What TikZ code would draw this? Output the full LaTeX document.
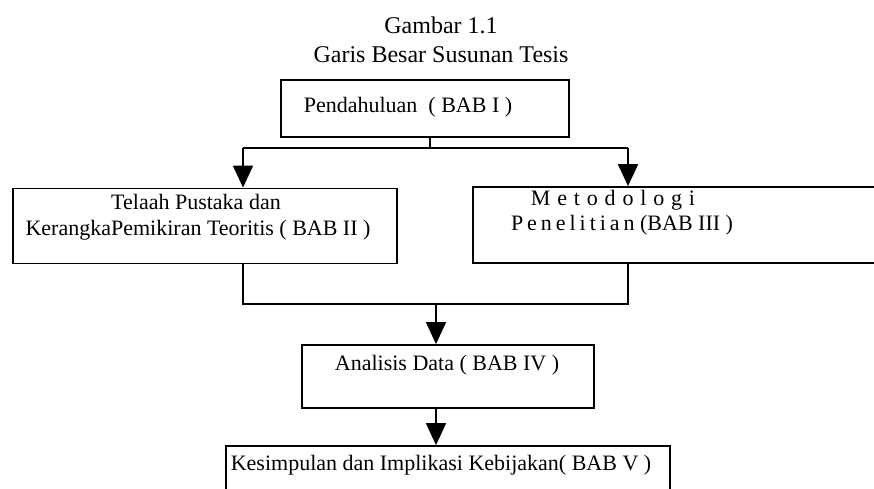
\documentclass[tikz,border=0pt]{standalone}
\usepackage{fontspec}
\setmainfont{Liberation Serif}
\usetikzlibrary{arrows.meta}

\tikzset{
  box/.style={draw, line width=1.8pt, inner sep=0pt},
  lbl/.style={inner sep=0pt, align=center, font=\fontsize{22}{28}\selectfont},
  ttl/.style={inner sep=0pt, font=\fontsize{24}{28}\selectfont},
  link/.style={line width=1.8pt},
  arr/.style={line width=1.8pt, -{Triangle[length=22pt,width=20pt]}},
}

\begin{document}
\begin{tikzpicture}[x=1pt,y=-1pt]
  \useasboundingbox (0,0) rectangle (874,488);
  \clip (0,0) rectangle (874,488);
  \fill[white] (0,0) rectangle (874,488);

  % heading
  \node[ttl] (t1) at (441,25) {Gambar 1.1};
  \node[ttl] (t2) at (441,55) {Garis Besar Susunan Tesis};

  % chapter boxes
  \node[box, minimum width=288pt, minimum height=57pt] (pend) at (425,108.5) {};
  \node[lbl] (pendt) at (408,107) {Pendahuluan\ \ ( BAB I )};

  \node[box, minimum width=384pt, minimum height=75pt] (tel) at (205,226) {};
  \node[lbl] (telt1) at (196,202) {Telaah Pustaka dan};
  \node[lbl] (telt2) at (198,230) {KerangkaPemikiran Teoritis ( BAB II )};

  \node[box, minimum width=440pt, minimum height=76pt] (met) at (693,225) {};
  \node[lbl] (mett1) at (613,200) {\addfontfeatures{LetterSpace=31}Metodologi};
  \node[lbl] (mett2) at (622,225) {{\addfontfeatures{LetterSpace=18}Penelitian} (BAB III )};

  \node[box, minimum width=292pt, minimum height=63pt] (ana) at (448,376.5) {};
  \node[lbl] (anat) at (447,365) {Analisis Data ( BAB IV )};

  \node[box, minimum width=444pt, minimum height=80pt] (kes) at (448,486) {};
  \node[lbl] (kest) at (441,465) {Kesimpulan dan Implikasi Kebijakan( BAB V )};

  % junction points
  \coordinate (split) at (430,148);
  \coordinate (la) at (243,148);
  \coordinate (ra) at (628,148);
  \coordinate (jl) at (243,304);
  \coordinate (jr) at (628,304);
  \coordinate (mid) at (436,304);

  % connectors
  \draw[link] (pend.south -| split) -- (split);
  \draw[link] (la) -- (ra);
  \draw[arr] (la) -- (la |- tel.north);
  \draw[arr] (ra) -- (ra |- met.north);
  \draw[link] (jl |- tel.south) -- (jl) -- (jr) -- (jr |- met.south);
  \draw[arr] (mid) -- (mid |- ana.north);
  \draw[arr] (ana.south -| mid) -- (mid |- kes.north);
\end{tikzpicture}
\end{document}
